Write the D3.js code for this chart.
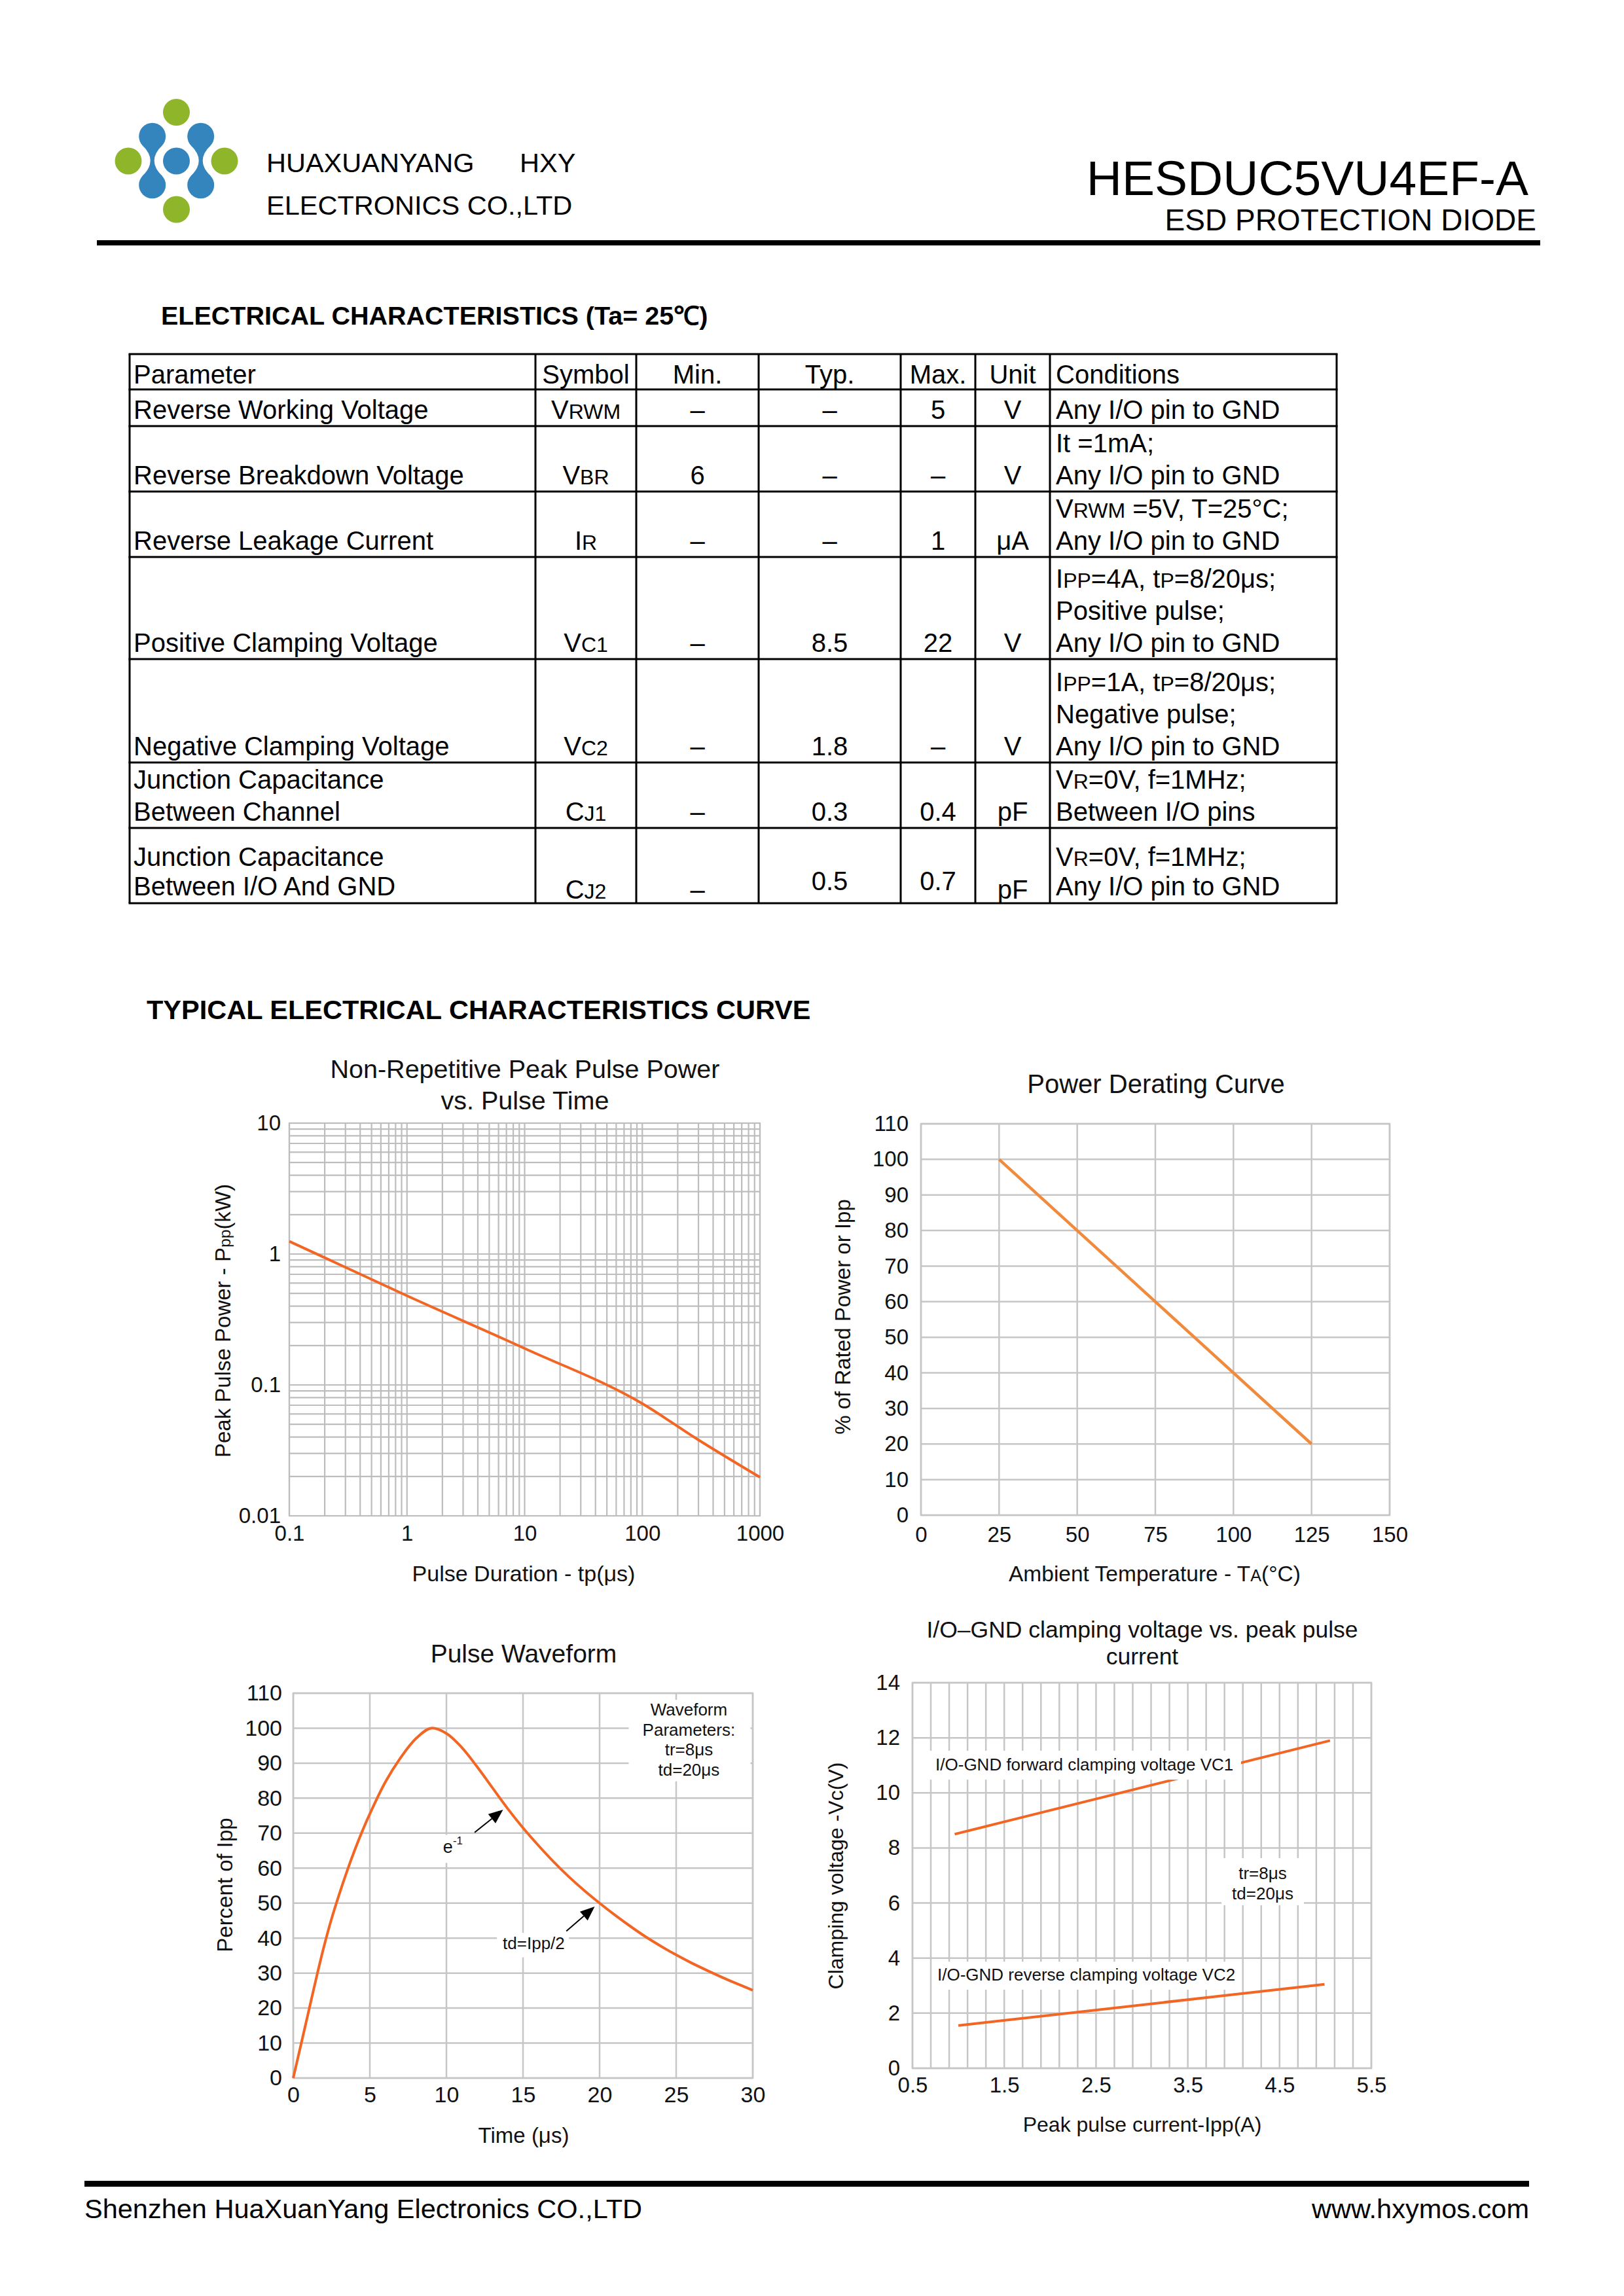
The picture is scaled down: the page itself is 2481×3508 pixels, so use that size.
<!DOCTYPE html>
<html><head><meta charset="utf-8">
<script src="https://cdn.jsdelivr.net/npm/d3@7"></script>
<style>html,body{margin:0;padding:0;background:#fff;} svg{display:block;}</style>
</head><body>
<script>
// ---------------- DATA ----------------
// Header / footer texts
const companyLine1 = "HUAXUANYANG";
const companyTag = "HXY";
const companyLine2 = "ELECTRONICS CO.,LTD";
const partNumber = "HESDUC5VU4EF-A";
const partDesc = "ESD PROTECTION DIODE";
const footerLeft = "Shenzhen HuaXuanYang Electronics CO.,LTD";
const footerRight = "www.hxymos.com";
const tableTitle = "ELECTRICAL CHARACTERISTICS (Ta= 25℃)";
const curvesTitle = "TYPICAL ELECTRICAL CHARACTERISTICS CURVE";

// Electrical characteristics table
const tableHeader = ["Parameter","Symbol","Min.","Typ.","Max.","Unit","Conditions"];
const paramNames = [["Reverse Working Voltage"],["Reverse Breakdown Voltage"],["Reverse Leakage Current"],["Positive Clamping Voltage"],["Negative Clamping Voltage"],["Junction Capacitance","Between Channel"],["Junction Capacitance","Between I/O And GND"]];
const symbols = [[["V"],["RWM",1]],[["V"],["BR",1]],[["I"],["R",1]],[["V"],["C1",1]],[["V"],["C2",1]],[["C"],["J1",1]],[["C"],["J2",1]]];
const minVals = ["–","6","–","–","–","–","–"];
const typVals = ["–","–","–","8.5","1.8","0.3","0.5"];
const maxVals = ["5","–","1","22","–","0.4","0.7"];
const unitVals = ["V","V","μA","V","V","pF","pF"];
const conditions = [
  [[["Any I/O pin to GND"]]],
  [[["It =1mA;"]],[["Any I/O pin to GND"]]],
  [[["V"],["RWM",1],[" =5V, T=25°C;"]],[["Any I/O pin to GND"]]],
  [[["I"],["PP",1],["=4A, t"],["P",1],["=8/20μs;"]],[["Positive pulse;"]],[["Any I/O pin to GND"]]],
  [[["I"],["PP",1],["=1A, t"],["P",1],["=8/20μs;"]],[["Negative pulse;"]],[["Any I/O pin to GND"]]],
  [[["V"],["R",1],["=0V, f=1MHz;"]],[["Between I/O pins"]]],
  [[["V"],["R",1],["=0V, f=1MHz;"]],[["Any I/O pin to GND"]]]
];

// Chart 1: Non-repetitive peak pulse power vs pulse time (log-log)
const ppTime = [0.1, 1, 10, 100, 300, 1000];        // µs
const ppPower = [1.25, 0.48, 0.19, 0.072, 0.038, 0.0197]; // kW
const ppXTicks = [0.1, 1, 10, 100, 1000];
const ppXLabels = ["0.1","1","10","100","1000"];
const ppYTicks = [0.01, 0.1, 1, 10];
const ppYLabels = ["0.01","0.1","1","10"];

// Chart 2: Power derating curve
const derTemp = [25, 125];
const derPct = [100, 20];
const derXTicks = [0,25,50,75,100,125,150];
const derYTicks = [0,10,20,30,40,50,60,70,80,90,100,110];

// Chart 3: Pulse waveform 8/20 µs
const wfTime = [0,0.5,1,1.5,2,2.5,3,3.5,4,4.5,5,6,7,8,9,10,11,12,13,14,15,16,17,18,19,20,21,22,23,24,25,26,27,28,29,30];
const wfPct  = [0,9.5,19,28.5,37.5,45.5,52.5,59,65,70.5,75.5,84.5,91.5,97,100,98.5,94.5,89,83,77,71.5,66.5,61.8,57.5,53.6,50,46.6,43.4,40.4,37.7,35.2,32.9,30.8,28.8,26.9,25.1];
const wfXTicks = [0,5,10,15,20,25,30];
const wfYTicks = [0,10,20,30,40,50,60,70,80,90,100,110];

// Chart 4: clamping voltage vs peak pulse current
const ippA1 = [0.96, 5.05];
const vc1 = [8.5, 11.9];
const ippA2 = [1.0, 4.99];
const vc2 = [1.55, 3.05];
const clXTicks = [0.5,1.5,2.5,3.5,4.5,5.5];
const clXGrid = [0.5,0.7,0.9,1.1,1.3,1.5,1.7,1.9,2.1,2.3,2.5,2.7,2.9,3.1,3.3,3.5,3.7,3.9,4.1,4.3,4.5,4.7,4.9,5.1,5.3,5.5];
const clYTicks = [0,2,4,6,8,10,12,14];

// ---------------- LAYOUT ----------------
const W = 2481, H = 3508;
const FONT = '"Liberation Sans", Arial, Helvetica, sans-serif';
const BLUE = "#3485be", GREEN = "#8fb52a";
const svg = d3.select("body").append("svg").attr("width", W).attr("height", H)
  .style("font-family", FONT);
svg.append("rect").attr("width", W).attr("height", H).attr("fill", "#fff");

function txt(g, x, y, s, size, opts = {}) {
  const t = g.append("text").attr("x", x).attr("y", y).attr("font-size", size)
    .attr("fill", opts.fill || "#000").style("font-family", FONT)
    .attr("text-anchor", opts.anchor || "start");
  if (opts.weight) t.attr("font-weight", opts.weight);
  if (typeof s === "string") t.text(s);
  else s.forEach(seg => {
    const ts = t.append("tspan").text(seg[0]);
    if (seg[1]) ts.attr("font-size", opts.sub || size * 0.8);
  });
  return t;
}

// ---------------- HEADER ----------------
const logo = svg.append("g");
const lr = 20.5;
const bluePairs = [[232.7,208.3,282.7],[306.7,208.3,282.7]];
bluePairs.forEach(([cx, y1, y2]) => {
  logo.append("path").attr("fill", BLUE).attr("d",
    `M${cx-15},${y1+14} Q${cx+9},${(y1+y2)/2} ${cx-15},${y2-14} L${cx+15},${y2-14} Q${cx-9},${(y1+y2)/2} ${cx+15},${y1+14} Z`);
  logo.append("circle").attr("cx", cx).attr("cy", y1).attr("r", lr).attr("fill", BLUE);
  logo.append("circle").attr("cx", cx).attr("cy", y2).attr("r", lr).attr("fill", BLUE);
});
logo.append("circle").attr("cx", 269.5).attr("cy", 246).attr("r", lr).attr("fill", BLUE);
[[269.5,171.5],[196,246],[343,246],[269.5,320]].forEach(([cx,cy]) =>
  logo.append("circle").attr("cx", cx).attr("cy", cy).attr("r", lr).attr("fill", GREEN));

txt(svg, 407, 263, companyLine1, 41.5);
txt(svg, 794, 263, companyTag, 41.5);
txt(svg, 407, 328, companyLine2, 41.5);
txt(svg, 2335, 298, partNumber, 75, {anchor: "end"});
txt(svg, 2347, 352, partDesc, 46, {anchor: "end"});
svg.append("rect").attr("x", 148).attr("y", 367).attr("width", 2205).attr("height", 8).attr("fill", "#000");

// ---------------- TABLE ----------------
txt(svg, 246, 496, tableTitle, 39.5, {weight: "bold"});
const colEdges = [198, 818, 972, 1159, 1376, 1490, 1604, 2042];
const rowEdges = [541, 595, 651, 751, 851, 1007, 1165, 1265, 1380];
const tg = svg.append("g");
rowEdges.forEach(y => tg.append("line").attr("x1", colEdges[0]-1.5).attr("x2", colEdges[7]+1.5)
  .attr("y1", y).attr("y2", y).attr("stroke", "#000").attr("stroke-width", 3));
colEdges.forEach(x => tg.append("line").attr("x1", x).attr("x2", x)
  .attr("y1", rowEdges[0]).attr("y2", rowEdges[8]).attr("stroke", "#000").attr("stroke-width", 3));
const TS = 40, TSUB = 32;
const colCenter = i => (colEdges[i] + colEdges[i+1]) / 2;
// header row
tableHeader.forEach((h, i) => {
  const b = rowEdges[1] - 9;
  if (i === 0) txt(tg, 204, b, h, TS);
  else if (i === 6) txt(tg, colEdges[6] + 9, b, h, TS);
  else txt(tg, colCenter(i), b, h, TS, {anchor: "middle"});
});
paramNames.forEach((p, r) => {
  const bottom = rowEdges[r + 2];
  const last = r === paramNames.length - 1;
  const base = bottom - (last ? 12 : 11);
  const lh = last ? 45 : 49;
  const symB = last ? bottom - 7 : base;
  const valB = last ? bottom - 20 : base;
  p.forEach((line, k) => txt(tg, 204, base - (p.length - 1 - k) * lh, line, TS));
  txt(tg, colCenter(1), symB, symbols[r], TS, {anchor: "middle", sub: TSUB});
  txt(tg, colCenter(2), symB, minVals[r], TS, {anchor: "middle"});
  txt(tg, colCenter(3), valB, typVals[r], TS, {anchor: "middle"});
  txt(tg, colCenter(4), valB, maxVals[r], TS, {anchor: "middle"});
  txt(tg, colCenter(5), symB, unitVals[r], TS, {anchor: "middle"});
  const c = conditions[r];
  c.forEach((line, k) => txt(tg, colEdges[6] + 9, base - (c.length - 1 - k) * lh, line, TS, {sub: TSUB}));
});

// ---------------- CURVES ----------------
txt(svg, 224, 1557, curvesTitle, 41.5, {weight: "bold"});

function chart(o) {
  const g = svg.append("g");
  const [L, T, R, B] = o.box;
  const x = (o.xLog ? d3.scaleLog() : d3.scaleLinear()).domain(o.xDomain).range([L, R]);
  const y = (o.yLog ? d3.scaleLog() : d3.scaleLinear()).domain(o.yDomain).range([B, T]);
  const gc = o.gridColor || "#c6c6c6", gw = o.gridWidth || 2.5;
  g.append("g").selectAll("line").data(o.xGrid).join("line")
    .attr("x1", d => x(d)).attr("x2", d => x(d)).attr("y1", T).attr("y2", B)
    .attr("stroke", gc).attr("stroke-width", gw);
  g.append("g").selectAll("line").data(o.yGrid).join("line")
    .attr("y1", d => y(d)).attr("y2", d => y(d)).attr("x1", L).attr("x2", R)
    .attr("stroke", gc).attr("stroke-width", gw);
  g.append("rect").attr("x", L).attr("y", T).attr("width", R - L).attr("height", B - T)
    .attr("fill", "none").attr("stroke", gc).attr("stroke-width", gw);
  const ax = g.append("g").attr("transform", `translate(0,${B})`)
    .call(d3.axisBottom(x).tickValues(o.xTicks).tickFormat((d, i) => o.xLabels ? o.xLabels[i] : String(d))
      .tickSize(0).tickPadding(o.xPad));
  ax.select(".domain").remove();
  ax.selectAll("text").attr("fill", "#111").style("font-size", o.tickFont + "px").style("font-family", FONT);
  const ay = g.append("g").attr("transform", `translate(${L},0)`)
    .call(d3.axisLeft(y).tickValues(o.yTicks).tickFormat((d, i) => o.yLabels ? o.yLabels[i] : String(d))
      .tickSize(0).tickPadding(o.yPad));
  ay.select(".domain").remove();
  ay.selectAll("text").attr("fill", "#111").style("font-size", o.tickFont + "px").style("font-family", FONT);
  o.title.forEach((t, i) => txt(g, o.titleX, o.titleY[i], t, o.titleFont, {anchor: "middle", fill: "#111"}));
  txt(g, o.xTitleX, o.xTitleY, o.xTitle, o.xAxisFont || o.axisFont, {anchor: "middle", fill: "#111", sub: (o.xAxisFont || o.axisFont) * 0.75});
  txt(g, 0, 0, o.yTitle, o.axisFont, {anchor: "middle", fill: "#111", sub: o.axisFont * 0.75})
    .attr("dy", "0.35em").attr("transform", `translate(${o.yTitleX},${o.yTitleY}) rotate(-90)`);
  return {g, x, y};
}

function whiteBox(c, x0, y0, x1, y1) {
  c.g.append("rect").attr("x", c.x(x0)).attr("y", c.y(y0))
    .attr("width", c.x(x1) - c.x(x0)).attr("height", c.y(y1) - c.y(y0)).attr("fill", "#fff");
}
function arrow(c, x0, y0, x1, y1) {
  const ax = c.x(x0), ay = c.y(y0), bx = c.x(x1), by = c.y(y1);
  const dx = bx - ax, dy = by - ay, len = Math.hypot(dx, dy), ux = dx / len, uy = dy / len;
  const hl = 22, hw = 9;
  const px = bx - ux * hl, py = by - uy * hl;
  c.g.append("line").attr("x1", ax).attr("y1", ay).attr("x2", px).attr("y2", py)
    .attr("stroke", "#000").attr("stroke-width", 2);
  c.g.append("path").attr("fill", "#000")
    .attr("d", `M${bx},${by} L${px - uy * hw},${py + ux * hw} L${px + uy * hw},${py - ux * hw} Z`);
}
function curve(c, xs, ys, color, width, interp) {
  c.g.append("path").datum(d3.range(xs.length)).attr("fill", "none")
    .attr("stroke", color).attr("stroke-width", width).attr("stroke-linejoin", "round")
    .attr("d", d3.line().x(i => c.x(xs[i])).y(i => c.y(ys[i])).curve(interp || d3.curveLinear));
}

// Chart 1
const c1 = chart({
  box: [442, 1716, 1161, 2316], xLog: true, yLog: true,
  xDomain: [0.1, 1000], yDomain: [0.01, 10],
  xGrid: d3.scaleLog().domain([0.1, 1000]).ticks(), yGrid: d3.scaleLog().domain([0.01, 10]).ticks(),
  xTicks: ppXTicks, xLabels: ppXLabels, yTicks: ppYTicks, yLabels: ppYLabels,
  xPad: 15, yPad: 13, tickFont: 33, gridColor: "#bdbdbd", gridWidth: 2.2,
  title: ["Non-Repetitive Peak Pulse Power", "vs. Pulse Time"], titleX: 802, titleY: [1647, 1695], titleFont: 39.5,
  xTitle: [["Pulse Duration - tp(μs)"]], xTitleX: 800, xTitleY: 2416, xAxisFont: 34,
  yTitle: [["Peak Pulse Power - P"], ["pp", 1], ["(kW)"]], yTitleX: 340, yTitleY: 2018, axisFont: 33
});
curve(c1, ppTime, ppPower, "#f26522", 4, d3.curveMonotoneX);

// Chart 2
const c2 = chart({
  box: [1407, 1717, 2123, 2315], xDomain: [0, 150], yDomain: [0, 110],
  xGrid: derXTicks, yGrid: derYTicks, xTicks: derXTicks, yTicks: derYTicks,
  xPad: 18, yPad: 19, tickFont: 33,
  title: ["Power Derating Curve"], titleX: 1766, titleY: [1670], titleFont: 40,
  xTitle: [["Ambient Temperature - T"], ["A", 1], ["(°C)"]], xTitleX: 1764, xTitleY: 2416, xAxisFont: 33.5,
  yTitle: [["% of Rated Power or Ipp"]], yTitleX: 1287, yTitleY: 2012, axisFont: 33
});
curve(c2, derTemp, derPct, "#f08a3c", 4.5);

// Chart 3
const c3 = chart({
  box: [448, 2587, 1150, 3175], xDomain: [0, 30], yDomain: [0, 110],
  xGrid: wfXTicks, yGrid: wfYTicks, xTicks: wfXTicks, yTicks: wfYTicks,
  xPad: 13, yPad: 17, tickFont: 34,
  title: ["Pulse Waveform"], titleX: 800, titleY: [2540], titleFont: 39,
  xTitle: [["Time (μs)"]], xTitleX: 800, xTitleY: 3274,
  yTitle: [["Percent of  Ipp"]], yTitleX: 343, yTitleY: 2880, axisFont: 33
});
whiteBox(c3, 21.9, 108.1, 29.85, 84.8);
whiteBox(c3, 9.6, 69.5, 11.5, 61.5);
whiteBox(c3, 13.3, 41.5, 18.0, 34.5);
curve(c3, wfTime, wfPct, "#f26522", 4, d3.curveCatmullRom);
arrow(c3, 11.84, 70.2, 13.70, 76.7);
arrow(c3, 17.83, 42.0, 19.68, 49.0);
const wfNote = ["Waveform", "Parameters:", "tr=8μs", "td=20μs"];
const wfNoteY = [103.6, 97.8, 92.2, 86.4];
wfNote.forEach((s, i) => txt(c3.g, c3.x(25.83), c3.y(wfNoteY[i]), s, 26, {anchor: "middle", fill: "#111"}));
const eT = txt(c3.g, c3.x(9.78), c3.y(64.4), "e", 27, {fill: "#111"});
eT.append("tspan").attr("font-size", 17).attr("dy", -13).text("-1");
txt(c3.g, c3.x(13.68), c3.y(36.9), "td=Ipp/2", 26, {fill: "#111"});

// Chart 4
const c4 = chart({
  box: [1394, 2571, 2095, 3160], xDomain: [0.5, 5.5], yDomain: [0, 14],
  xGrid: clXGrid, yGrid: clYTicks, xTicks: clXTicks, yTicks: clYTicks,
  xPad: 14, yPad: 19, tickFont: 33,
  title: ["I/O–GND clamping voltage vs. peak pulse", "current"], titleX: 1745, titleY: [2502, 2543], titleFont: 35.5,
  xTitle: [["Peak pulse current-Ipp(A)"]], xTitleX: 1745, xTitleY: 3257,
  yTitle: [["Clamping voltage -Vc(V)"]], yTitleX: 1277, yTitleY: 2866, axisFont: 32
});
curve(c4, ippA1, vc1, "#f26522", 4);
curve(c4, ippA2, vc2, "#f26522", 4);
whiteBox(c4, 0.678, 11.53, 4.08, 10.48);
whiteBox(c4, 0.714, 3.87, 4.066, 2.85);
whiteBox(c4, 3.867, 7.63, 4.765, 5.92);
txt(c4.g, c4.x(0.75), c4.y(10.82), "I/O-GND forward clamping voltage VC1", 26, {fill: "#111"});
txt(c4.g, c4.x(0.771), c4.y(3.185), "I/O-GND reverse clamping voltage VC2", 26, {fill: "#111"});
txt(c4.g, c4.x(4.316), c4.y(6.87), "tr=8μs", 26, {anchor: "middle", fill: "#111"});
txt(c4.g, c4.x(4.316), c4.y(6.13), "td=20μs", 26, {anchor: "middle", fill: "#111"});

// ---------------- FOOTER ----------------
svg.append("rect").attr("x", 129).attr("y", 3332).attr("width", 2207).attr("height", 9).attr("fill", "#000");
txt(svg, 129, 3389, footerLeft, 41.5);
txt(svg, 2336, 3389, footerRight, 41.5, {anchor: "end"});
</script>
</body></html>
